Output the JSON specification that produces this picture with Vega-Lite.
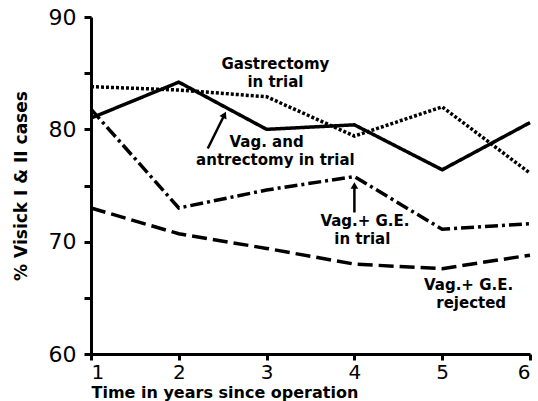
{
  "$schema": "https://vega.github.io/schema/vega-lite/v6.json",
  "width": 439,
  "height": 337,
  "autosize": "none",
  "padding": {"left": 91, "top": 17, "right": 8, "bottom": 47},
  "background": "white",
  "config": {
    "view": {"stroke": null},
    "font": "DejaVu Sans",
    "axis": {"grid": false, "domainColor": "black", "tickColor": "black", "labelColor": "black", "titleColor": "black", "domainWidth": 3, "tickWidth": 3, "labelFont": "DejaVu Sans", "titleFont": "DejaVu Sans", "titleFontWeight": "bold"}
  },
  "datasets": {
    "series": [
      {"year": 1, "value": 83.8, "series": "Gastrectomy in trial"},
      {"year": 2, "value": 83.5, "series": "Gastrectomy in trial"},
      {"year": 3, "value": 82.9, "series": "Gastrectomy in trial"},
      {"year": 4, "value": 79.4, "series": "Gastrectomy in trial"},
      {"year": 5, "value": 82.0, "series": "Gastrectomy in trial"},
      {"year": 6, "value": 76.1, "series": "Gastrectomy in trial"},
      {"year": 1, "value": 81.0, "series": "Vag. and antrectomy in trial"},
      {"year": 2, "value": 84.2, "series": "Vag. and antrectomy in trial"},
      {"year": 3, "value": 80.0, "series": "Vag. and antrectomy in trial"},
      {"year": 4, "value": 80.4, "series": "Vag. and antrectomy in trial"},
      {"year": 5, "value": 76.4, "series": "Vag. and antrectomy in trial"},
      {"year": 6, "value": 80.6, "series": "Vag. and antrectomy in trial"},
      {"year": 1, "value": 81.8, "series": "Vag.+ G.E. in trial"},
      {"year": 2, "value": 73.0, "series": "Vag.+ G.E. in trial"},
      {"year": 3, "value": 74.6, "series": "Vag.+ G.E. in trial"},
      {"year": 4, "value": 75.8, "series": "Vag.+ G.E. in trial"},
      {"year": 5, "value": 71.1, "series": "Vag.+ G.E. in trial"},
      {"year": 6, "value": 71.6, "series": "Vag.+ G.E. in trial"},
      {"year": 1, "value": 73.0, "series": "Vag.+ G.E. rejected"},
      {"year": 2, "value": 70.7, "series": "Vag.+ G.E. rejected"},
      {"year": 3, "value": 69.4, "series": "Vag.+ G.E. rejected"},
      {"year": 4, "value": 68.0, "series": "Vag.+ G.E. rejected"},
      {"year": 5, "value": 67.6, "series": "Vag.+ G.E. rejected"},
      {"year": 6, "value": 68.8, "series": "Vag.+ G.E. rejected"}
    ],
    "labels": [
      {"x": 3.1, "y": 85.8, "text": "Gastrectomy"},
      {"x": 3.1, "y": 84.2, "text": "in trial"},
      {"x": 3.0, "y": 78.9, "text": "Vag. and"},
      {"x": 3.1, "y": 77.3, "text": "antrectomy in trial"},
      {"x": 4.12, "y": 71.8, "text": "Vag.+ G.E."},
      {"x": 4.09, "y": 70.2, "text": "in trial"},
      {"x": 5.3, "y": 66.1, "text": "Vag.+ G.E."},
      {"x": 5.33, "y": 64.5, "text": "rejected"}
    ],
    "arrows": [
      {"x": 2.33, "y": 78.3, "x2": 2.52, "y2": 81.3},
      {"x": 4.0, "y": 72.6, "x2": 4.0, "y2": 75.0}
    ]
  },
  "data": {"name": "series"},
  "encoding": {
    "x": {"type": "quantitative"},
    "y": {"type": "quantitative"}
  },
  "layer": [
    {
      "mark": {"type": "line", "color": "black", "strokeWidth": 3.5},
      "encoding": {
        "x": {"field": "year", "type": "quantitative", "scale": {"domain": [1, 6], "nice": false, "zero": false},
          "axis": {"values": [1, 2, 3, 4, 5, 6], "format": "d", "labelFontSize": 20, "tickSize": 6, "labelPadding": 2, "title": "Time in years since operation", "titleFontSize": 16, "titleAnchor": "start", "titlePadding": 2}},
        "y": {"field": "value", "type": "quantitative", "scale": {"domain": [60, 90], "nice": false, "zero": false},
          "axis": {"values": [60, 65, 70, 75, 80, 85, 90], "labelExpr": "datum.value % 10 == 0 ? datum.label : ''", "labelFontSize": 22, "tickSize": 7, "labelPadding": 8, "title": "% Visick I & II cases", "titleFontSize": 17, "titlePadding": 18}},
        "strokeDash": {"field": "series", "type": "nominal", "legend": null,
          "scale": {"domain": ["Gastrectomy in trial", "Vag. and antrectomy in trial", "Vag.+ G.E. in trial", "Vag.+ G.E. rejected"],
            "range": [[3, 2], [1, 0], [13, 4, 3, 4], [15, 6]]}}
      }
    },
    {
      "data": {"name": "labels"},
      "mark": {"type": "text", "fontSize": 15, "fontWeight": "bold", "color": "black", "align": "center", "baseline": "middle"},
      "encoding": {
        "x": {"field": "x", "type": "quantitative"},
        "y": {"field": "y", "type": "quantitative"},
        "text": {"field": "text"}
      }
    },
    {
      "data": {"name": "arrows"},
      "mark": {"type": "rule", "color": "black", "strokeWidth": 2.5},
      "encoding": {
        "x": {"field": "x", "type": "quantitative"},
        "y": {"field": "y", "type": "quantitative"},
        "x2": {"field": "x2"},
        "y2": {"field": "y2"}
      }
    },
    {
      "data": {"name": "arrows"},
      "transform": [{"filter": "datum.x2 < 3"}],
      "mark": {"type": "point", "shape": "triangle-up", "filled": true, "color": "black", "size": 60, "angle": 26, "opacity": 1},
      "encoding": {
        "x": {"field": "x2", "type": "quantitative"},
        "y": {"field": "y2", "type": "quantitative"}
      }
    },
    {
      "data": {"name": "arrows"},
      "transform": [{"filter": "datum.x2 > 3"}],
      "mark": {"type": "point", "shape": "triangle-up", "filled": true, "color": "black", "size": 60, "opacity": 1},
      "encoding": {
        "x": {"field": "x2", "type": "quantitative"},
        "y": {"field": "y2", "type": "quantitative"}
      }
    }
  ]
}
